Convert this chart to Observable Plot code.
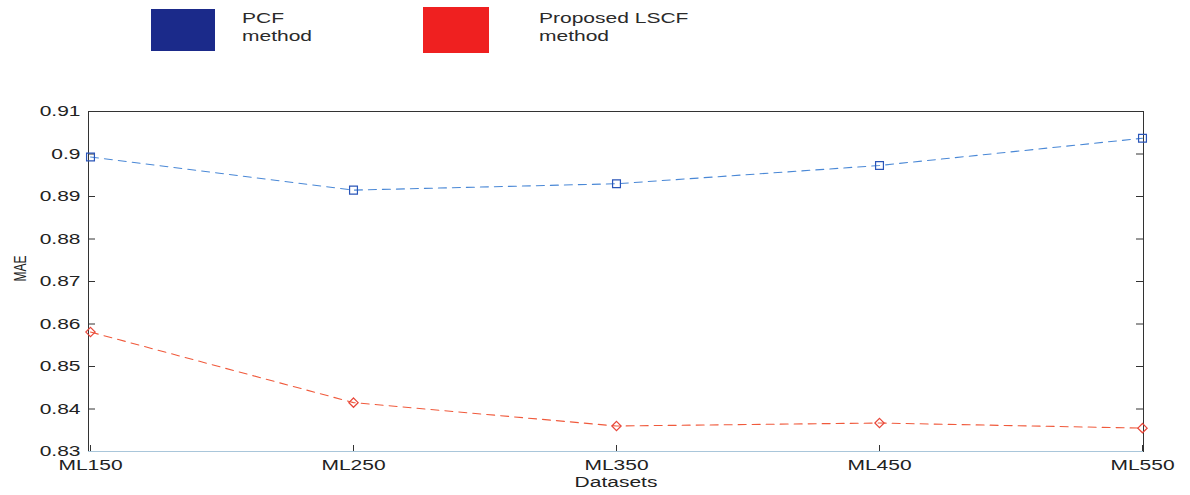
<!DOCTYPE html>
<html>
<head>
<meta charset="utf-8">
<script src="https://cdn.jsdelivr.net/npm/d3@7"></script>
<script src="https://cdn.jsdelivr.net/npm/@observablehq/plot@0.6"></script>
<style>
  body { margin: 0; background: #fff; width: 1190px; height: 495px; overflow: hidden;
         font-family: "Liberation Sans", Arial, sans-serif; }
  #legend { position: relative; height: 60px; }
  .sw { position: absolute; }
  .lab { position: absolute; font-size: 15px; line-height: 18px; color: #2a2a2a;
         transform: scaleX(1.4); transform-origin: left top; white-space: nowrap; }
</style>
</head>
<body>
<div id="legend"></div>
<div id="chart"></div>
<script>
// MAE per dataset for both collaborative-filtering methods
const datasets = ["ML150", "ML250", "ML350", "ML450", "ML550"];
const pcfMae = [0.8993, 0.8915, 0.8930, 0.8973, 0.9037];
const lscfMae = [0.8581, 0.8415, 0.8360, 0.8367, 0.8355];
const yTicks = [0.83, 0.84, 0.85, 0.86, 0.87, 0.88, 0.89, 0.90, 0.91];
const seriesLabels = [["PCF", "method"], ["Proposed LSCF", "method"]];
const seriesColors = ["#1b2a8a", "#ef2020"];

const pcfRows = datasets.map((d, i) => ({dataset: d, mae: pcfMae[i]}));
const lscfRows = datasets.map((d, i) => ({dataset: d, mae: lscfMae[i]}));

// Legend: two colour swatches with two-line labels
const legend = document.getElementById("legend");
const swatchPos = [{l: 151, t: 9, w: 64, h: 42}, {l: 423, t: 7, w: 66, h: 46}];
const labelLeft = [242, 539];
seriesLabels.forEach((lines, i) => {
  const sw = document.createElement("div");
  sw.className = "sw";
  Object.assign(sw.style, {left: swatchPos[i].l + "px", top: swatchPos[i].t + "px",
    width: swatchPos[i].w + "px", height: swatchPos[i].h + "px", background: seriesColors[i]});
  legend.appendChild(sw);
  const lab = document.createElement("div");
  lab.className = "lab";
  lab.style.left = labelLeft[i] + "px";
  lab.style.top = "9px";
  lab.innerHTML = lines.join("<br>");
  legend.appendChild(lab);
});

const W = 1190, H = 435, mL = 88, mR = 47, mT = 51, mB = 44;
const plotW = W - mL - mR;
const plotH = H - mT - mB;
const axisColor = "#333";

const chart = Plot.plot({
  width: W, height: H,
  marginLeft: mL, marginRight: mR, marginTop: mT, marginBottom: mB,
  style: {fontFamily: "Liberation Sans, Arial, sans-serif", fontSize: "15px", color: "#222", background: "#fff", overflow: "visible"},
  x: {type: "point", domain: datasets, padding: 0},
  y: {domain: [0.83, 0.91]},
  marks: [
    // inward tick marks on left, right and bottom edges
    Plot.ruleY(yTicks, {insetRight: plotW - 7, stroke: axisColor}),
    Plot.ruleY(yTicks, {insetLeft: plotW - 7, stroke: axisColor}),
    Plot.ruleX(datasets, {insetTop: plotH - 6, stroke: axisColor}),
    Plot.frame({stroke: axisColor}),
    Plot.ruleY([0.83], {stroke: "#a9c6da"}),
    Plot.axisY(yTicks, {tickSize: 0, tickPadding: 8, tickFormat: d => String(+d.toFixed(2)), label: null}),
    Plot.axisX({tickSize: 0, tickPadding: 8, label: null}),
    Plot.text(["MAE"], {text: d => d, frameAnchor: "left", dx: -68, rotate: -90, fontSize: 12, fill: "#222"}),
    Plot.text(["Datasets"], {text: d => d, frameAnchor: "bottom", dy: 35, fill: "#222"}),
    // PCF series
    Plot.line(pcfRows, {x: "dataset", y: "mae", stroke: "#4a88d6", strokeWidth: 1.1, strokeDasharray: "8,6"}),
    Plot.dot(pcfRows, {x: "dataset", y: "mae", symbol: "square2", r: 5, stroke: "#2a55b8", strokeWidth: 1.2}),
    // Proposed LSCF series
    Plot.line(lscfRows, {x: "dataset", y: "mae", stroke: "#f05a3c", strokeWidth: 1.1, strokeDasharray: "8,6"}),
    Plot.dot(lscfRows, {x: "dataset", y: "mae", symbol: "diamond2", r: 4.2, stroke: "#e8473a", strokeWidth: 1.2})
  ]
});

// Widen the glyphs of every label around its own anchor point
chart.querySelectorAll("text").forEach(t => {
  const x = +t.getAttribute("x") || 0;
  t.removeAttribute("x");
  const tr = t.getAttribute("transform") || "";
  const s = t.textContent === "MAE" ? "scale(1,1.4)" : "scale(1.4,1)";
  t.setAttribute("transform", `${tr} translate(${x},0) ${s}`);
});

document.getElementById("chart").appendChild(chart);
</script>
</body>
</html>
